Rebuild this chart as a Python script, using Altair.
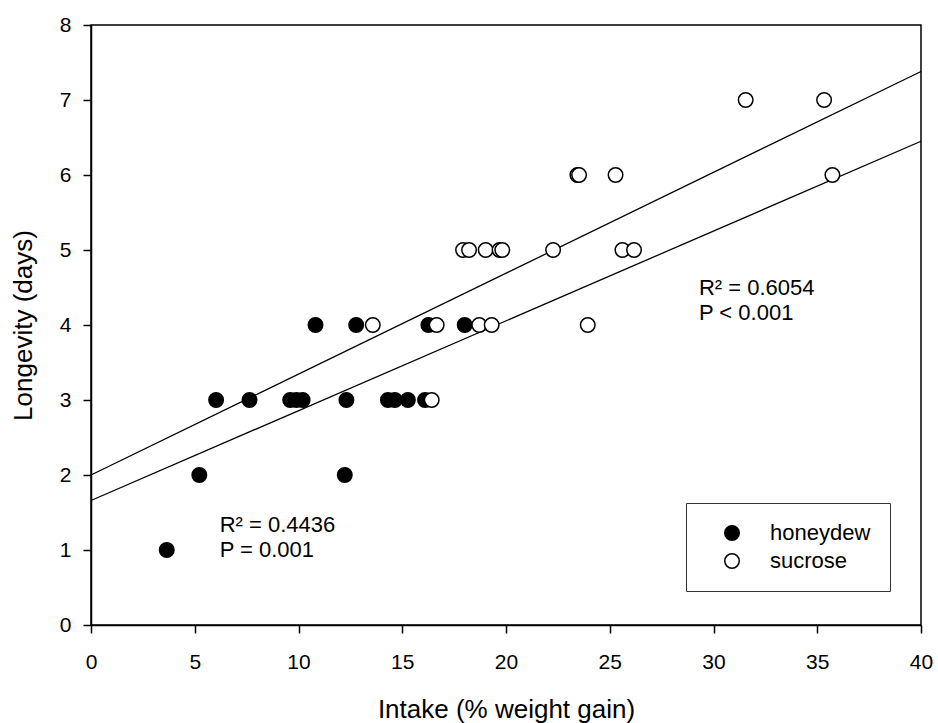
import altair as alt
import pandas as pd

# ---- data ----
honey_x = [3.65, 5.22, 12.23, 6.03, 7.64, 9.6, 9.9, 10.2, 12.31, 14.31, 14.64, 15.27, 16.1,
           10.82, 12.78, 16.26, 18.01]
honey_y = [1, 2, 2, 3, 3, 3, 3, 3, 3, 3, 3, 3, 3, 4, 4, 4, 4]

sucrose_x = [16.42, 13.58, 16.66, 18.71, 19.31, 23.94, 17.93, 18.22, 19.02, 19.69, 19.82,
             22.27, 25.61, 26.17, 23.44, 23.52, 25.28, 35.73, 31.55, 35.33]
sucrose_y = [3, 4, 4, 4, 4, 4, 5, 5, 5, 5, 5, 5, 5, 5, 6, 6, 6, 6, 7, 7]

groups = ["honeydew", "sucrose"]

fit_x = [0, 40]
fit_upper_y = [2.0, 7.38]
fit_lower_y = [1.66, 6.45]

ann_x = [6.2, 6.2, 29.3, 29.3]
ann_y = [1.244, 0.91, 4.4, 4.067]
ann_text = ["R² = 0.4436", "P = 0.001", "R² = 0.6054", "P < 0.001"]

x_ticks = [0, 5, 10, 15, 20, 25, 30, 35, 40]
y_ticks = [0, 1, 2, 3, 4, 5, 6, 7, 8]

FONT = "Liberation Sans"

pts = pd.DataFrame({
    "x": honey_x + sucrose_x,
    "y": honey_y + sucrose_y,
    "group": [groups[0]] * len(honey_x) + [groups[1]] * len(sucrose_x),
    "order": list(range(len(honey_x) + len(sucrose_x))),
})
lines = pd.DataFrame({
    "x": fit_x + fit_x,
    "y": fit_upper_y + fit_lower_y,
    "fit": ["upper"] * 2 + ["lower"] * 2,
})
ann = pd.DataFrame({"x": ann_x, "y": ann_y, "t": ann_text})

xs = alt.Scale(domain=[0, 40], nice=False, zero=False)
ys = alt.Scale(domain=[0, 8], nice=False, zero=False)

x_axis = alt.Axis(values=x_ticks, title="Intake (% weight gain)", tickSize=8,
                  labelPadding=18, titleY=92.5, titleBaseline="alphabetic", format="d",
                  labelFlush=False)
y_axis = alt.Axis(values=y_ticks, title="Longevity (days)", tickSize=8,
                  labelPadding=12, titleX=-60, titleBaseline="alphabetic", format="d",
                  labelFlush=False)

line_layer = alt.Chart(lines).mark_line(color="black", strokeWidth=1.3).encode(
    x=alt.X("x:Q", scale=xs, axis=x_axis),
    y=alt.Y("y:Q", scale=ys, axis=y_axis),
    detail="fit:N",
)

point_layer = alt.Chart(pts).mark_point(
    shape="circle", filled=True, stroke="black", strokeWidth=1.5, size=210,
    opacity=1, fillOpacity=1, strokeOpacity=1,
).encode(
    x=alt.X("x:Q", scale=xs),
    y=alt.Y("y:Q", scale=ys),
    fill=alt.Fill("group:N",
                  scale=alt.Scale(domain=groups, range=["black", "white"]),
                  legend=alt.Legend(title=None, orient="none", legendX=595, legendY=478,
                                    strokeColor="#333333", padding=19,
                                    labelFont=FONT, labelFontSize=22, labelColor="black",
                                    labelOffset=27, symbolOffset=16, rowPadding=6,
                                    symbolType="circle", symbolSize=210,
                                    symbolStrokeColor="black", symbolStrokeWidth=1.5,
                                    symbolOpacity=1)),
    order="order:Q",
)

text_layer = alt.Chart(ann).mark_text(
    align="left", baseline="alphabetic", font=FONT, fontSize=22, color="black"
).encode(
    x=alt.X("x:Q", scale=xs),
    y=alt.Y("y:Q", scale=ys),
    text="t:N",
)

chart = alt.layer(line_layer, point_layer, text_layer).properties(
    width=830, height=600,
    autosize=alt.AutoSizeParams(type="none"),
    padding={"left": 91, "top": 25, "right": 17, "bottom": 98},
).configure(
    background="white"
).configure_view(
    stroke="black", strokeWidth=1.5,
).configure_axis(
    grid=False, domainColor="black", domainWidth=1.5, tickColor="black", tickWidth=1.5,
    labelColor="black", labelFont=FONT, labelFontSize=21,
    titleColor="black", titleFont=FONT, titleFontSize=26, titleFontWeight="normal",
)

chart.save("out.html", embed_options={"renderer": "svg", "actions": False})
